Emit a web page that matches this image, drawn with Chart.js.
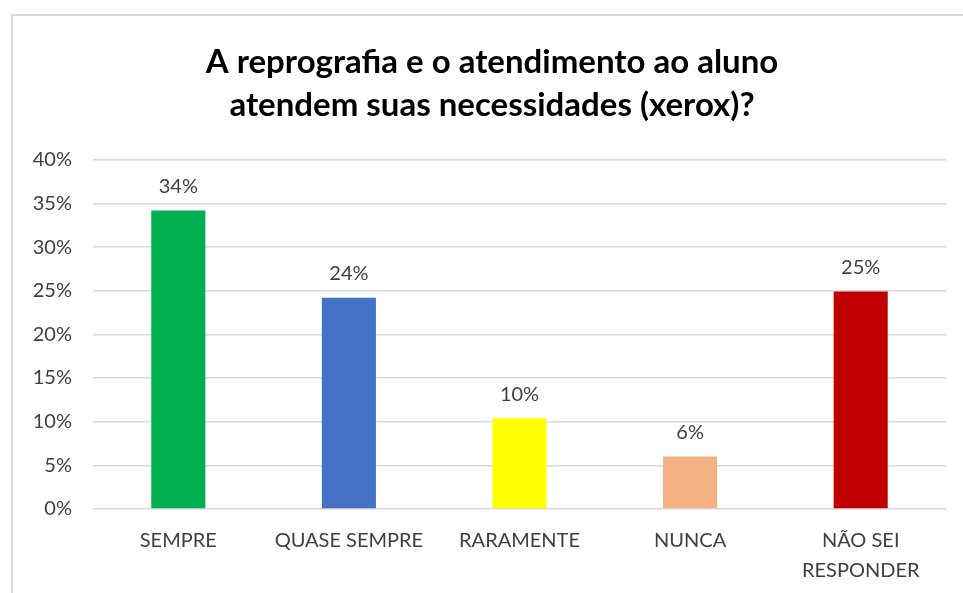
<!DOCTYPE html>
<html>
<head>
<meta charset="utf-8">
<script src="https://cdn.jsdelivr.net/npm/chart.js@4"></script>
<style>
  html, body { margin: 0; padding: 0; background: #fff; overflow: hidden; }
  #wrap { position: relative; width: 963px; height: 593px; }
  #frame { position: absolute; left: 11px; top: 14px; width: 1000px; height: 700px;
           border-top: 2px solid #d9d9d9; border-left: 2px solid #d9d9d9; }
  canvas { position: absolute; left: 0; top: 0; }
</style>
</head>
<body>
<div id="wrap">
  <div id="frame"></div>
  <canvas id="chart" width="963" height="593"></canvas>
</div>
<script>
const categories = ['SEMPRE', 'QUASE SEMPRE', 'RARAMENTE', 'NUNCA', ['NÃO SEI', 'RESPONDER']];
const values = [34.2, 24.2, 10.4, 6.0, 24.9];
const valueLabels = ['34%', '24%', '10%', '6%', '25%'];
const barColors = ['#00B050', '#4472C4', '#FFFF00', '#F4B183', '#C00000'];
const titleLines = ['A reprografia e o atendimento ao aluno', 'atendem suas necessidades (xerox)?'];

// simple value labels above the bars
const barLabels = {
    id: 'barLabels',
    afterDatasetsDraw(chart) {
        const ctx = chart.ctx;
        const meta = chart.getDatasetMeta(0);
        ctx.save();
        ctx.font = '20px Lato';
        ctx.fillStyle = '#404040';
        ctx.textAlign = 'center';
        ctx.textBaseline = 'middle';
        meta.data.forEach((bar, i) => {
            ctx.fillText(valueLabels[i], bar.x, bar.y - 24);
        });
        ctx.restore();
    }
};

// title sits a bit right of the canvas centre in the original
const shiftTitle = {
    id: 'shiftTitle',
    afterLayout(chart) {
        if (chart.titleBlock) chart.titleBlock.left += 38;
    }
};

new Chart(document.getElementById('chart'), {
    type: 'bar',
    data: {
        labels: categories,
        datasets: [{
            data: values,
            backgroundColor: barColors,
            categoryPercentage: 1,
            barPercentage: 0.317
        }]
    },
    options: {
        responsive: false,
        animation: false,
        layout: { padding: { left: 0, right: 17, top: 0, bottom: 0 } },
        plugins: {
            legend: { display: false },
            tooltip: { enabled: false },
            title: {
                display: true,
                text: titleLines,
                color: '#000',
                font: { family: 'Lato', size: 33, weight: 'bold', lineHeight: 1.33 },
                padding: { top: 40, bottom: 32 }
            }
        },
        scales: {
            x: {
                grid: { display: false, drawTicks: false },
                border: { display: false },
                ticks: {
                    color: '#404040',
                    font: { family: 'Lato', size: 20, lineHeight: 1.5 },
                    padding: 17,
                    maxRotation: 0,
                    autoSkip: false
                },
                afterFit(scale) { scale.height = 84; }
            },
            y: {
                min: 0,
                max: 40,
                grid: { color: '#d9d9d9', lineWidth: 1.5, drawTicks: false },
                border: { display: false },
                ticks: {
                    stepSize: 5,
                    color: '#404040',
                    font: { family: 'Lato', size: 20 },
                    padding: 21,
                    callback: v => v + '%'
                },
                afterFit(scale) { scale.width = 93; }
            }
        }
    },
    plugins: [barLabels, shiftTitle]
});
</script>
</body>
</html>
